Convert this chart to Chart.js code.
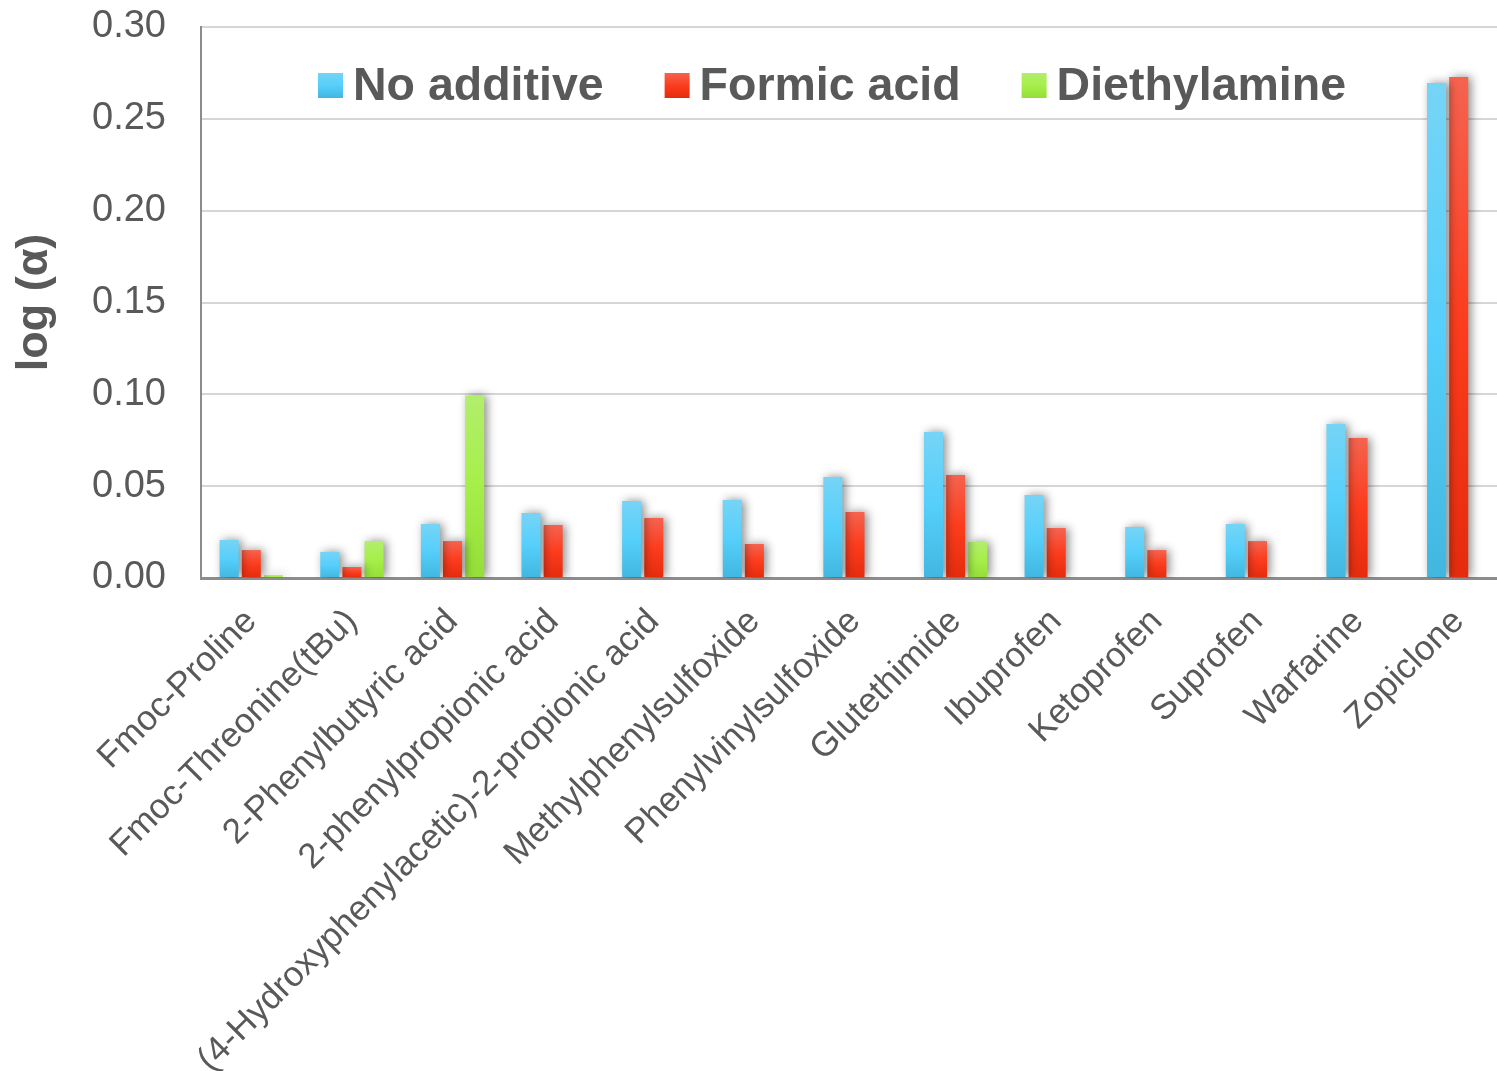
<!DOCTYPE html>
<html>
<head>
<meta charset="utf-8">
<script src="https://cdn.jsdelivr.net/npm/chart.js@4/dist/chart.umd.min.js"></script>
<style>
  html, body { margin: 0; padding: 0; background: #fff; overflow: hidden; }
  #wrap { width: 1509px; height: 1071px; position: relative; }
</style>
</head>
<body>
<div id="wrap"><canvas id="chart"></canvas></div>
<script>
// Data
const categories = [
  'Fmoc-Proline', 'Fmoc-Threonine(tBu)', '2-Phenylbutyric acid', '2-phenylpropionic acid',
  '(4-Hydroxyphenylacetic)-2-propionic acid', 'Methylphenylsulfoxide', 'Phenylvinylsulfoxide',
  'Glutethimide', 'Ibuprofen', 'Ketoprofen', 'Suprofen', 'Warfarine', 'Zopiclone'
];
const noAdditive   = [0.0207, 0.0142, 0.0294, 0.0354, 0.0419, 0.0425, 0.0550, 0.0795, 0.0452, 0.0278, 0.0294, 0.0838, 0.2695];
const formicAcid   = [0.0152, 0.0060, 0.0201, 0.0289, 0.0327, 0.0185, 0.0359, 0.0561, 0.0272, 0.0152, 0.0201, 0.0762, 0.2728];
const diethylamine = [0.0016, 0.0201, 0.0993, null, null, null, null, 0.0196, null, null, null, null, null];
const yTicks = [0, 0.05, 0.10, 0.15, 0.20, 0.25, 0.30];

const TEXT = '#595959';
const FONT = "'Liberation Sans', Arial, sans-serif";

// light / mid / dark stops for each series
const palettes = [
  ['#76d4f6', '#55cffb', '#41b7e0'],
  ['#f5634f', '#fc3c1d', '#e42c0d'],
  ['#b2ee6c', '#a6ef4a', '#94de38']
];

function barGradient(idx) {
  return function (c) {
    const chart = c.chart;
    const y = chart.scales && chart.scales.y;
    if (c.type !== 'data' || !y || c.raw == null) return palettes[idx][1];
    const top = y.getPixelForValue(c.raw);
    const bottom = y.getPixelForValue(0);
    if (!isFinite(top) || bottom - top < 1) return palettes[idx][1];
    const g = chart.ctx.createLinearGradient(0, top, 0, bottom);
    g.addColorStop(0, palettes[idx][0]);
    g.addColorStop(0.5, palettes[idx][1]);
    g.addColorStop(1, palettes[idx][2]);
    return g;
  };
}

// soft drop shadow behind the bars
const barShadow = {
  id: 'barShadow',
  beforeDatasetsDraw(chart) {
    const ctx = chart.ctx;
    ctx.save();
    ctx.shadowColor = 'rgba(0,0,0,0.45)';
    ctx.shadowBlur = 10;
    ctx.shadowOffsetX = 3;
    ctx.shadowOffsetY = 0;
  },
  afterDatasetsDraw(chart) {
    chart.ctx.restore();
  }
};

// legend sits inside the plot, near the top
const innerLegend = {
  id: 'innerLegend',
  afterDraw(chart) {
    const ctx = chart.ctx;
    let x = 318;
    const cy = 85;
    ctx.save();
    ctx.font = 'bold 46.5px ' + FONT;
    ctx.textBaseline = 'middle';
    ctx.textAlign = 'left';
    chart.data.datasets.forEach(function (ds, i) {
      const g = ctx.createLinearGradient(0, cy - 12, 0, cy + 13);
      g.addColorStop(0, palettes[i][0]);
      g.addColorStop(0.5, palettes[i][1]);
      g.addColorStop(1, palettes[i][2]);
      ctx.fillStyle = g;
      ctx.fillRect(x, cy - 12, 25, 25);
      ctx.fillStyle = TEXT;
      ctx.fillText(ds.label, x + 35, cy + 2);
      x += 35 + ctx.measureText(ds.label).width + 61;
    });
    ctx.restore();
  }
};

const ctx = document.getElementById('chart');
new Chart(ctx, {
  type: 'bar',
  data: {
    labels: categories,
    datasets: [
      { label: 'No additive', data: noAdditive, backgroundColor: barGradient(0) },
      { label: 'Formic acid', data: formicAcid, backgroundColor: barGradient(1) },
      { label: 'Diethylamine', data: diethylamine, backgroundColor: barGradient(2) }
    ]
  },
  options: {
    responsive: true,
    maintainAspectRatio: false,
    animation: false,
    categoryPercentage: 0.66,
    barPercentage: 0.86,
    layout: { padding: { top: 27, right: 0, left: 0, bottom: 0 } },
    plugins: {
      legend: { display: false },
      tooltip: { enabled: false }
    },
    scales: {
      y: {
        min: 0,
        max: 0.3,
        afterFit: function (s) {
          s.width = 201;
          s.paddingTop = 0;
          s.paddingBottom = 0;
        },
        afterBuildTicks: function (s) { s.ticks = yTicks.map(function (v) { return { value: v }; }); },
        ticks: {
          color: TEXT,
          padding: 35,
          font: { family: FONT, size: 38 },
          callback: function (v) { return Number(v).toFixed(2); }
        },
        grid: { color: '#d6d6d6', lineWidth: 2, drawTicks: false },
        border: { color: '#8c8c8c', width: 2 },
        title: {
          display: true,
          text: 'log (α)',
          color: TEXT,
          font: { family: FONT, size: 45, weight: 'bold' },
          padding: { top: 8, bottom: 4 }
        }
      },
      x: {
        afterFit: function (s) {
          s.height = 493;
          s.paddingLeft = 0;
          s.paddingRight = 0;
        },
        ticks: {
          color: TEXT,
          minRotation: 45,
          maxRotation: 45,
          autoSkip: false,
          padding: 15,
          font: { family: FONT, size: 35 }
        },
        grid: { display: false },
        border: { color: '#8c8c8c', width: 3 }
      }
    }
  },
  plugins: [barShadow, innerLegend]
});
</script>
</body>
</html>
